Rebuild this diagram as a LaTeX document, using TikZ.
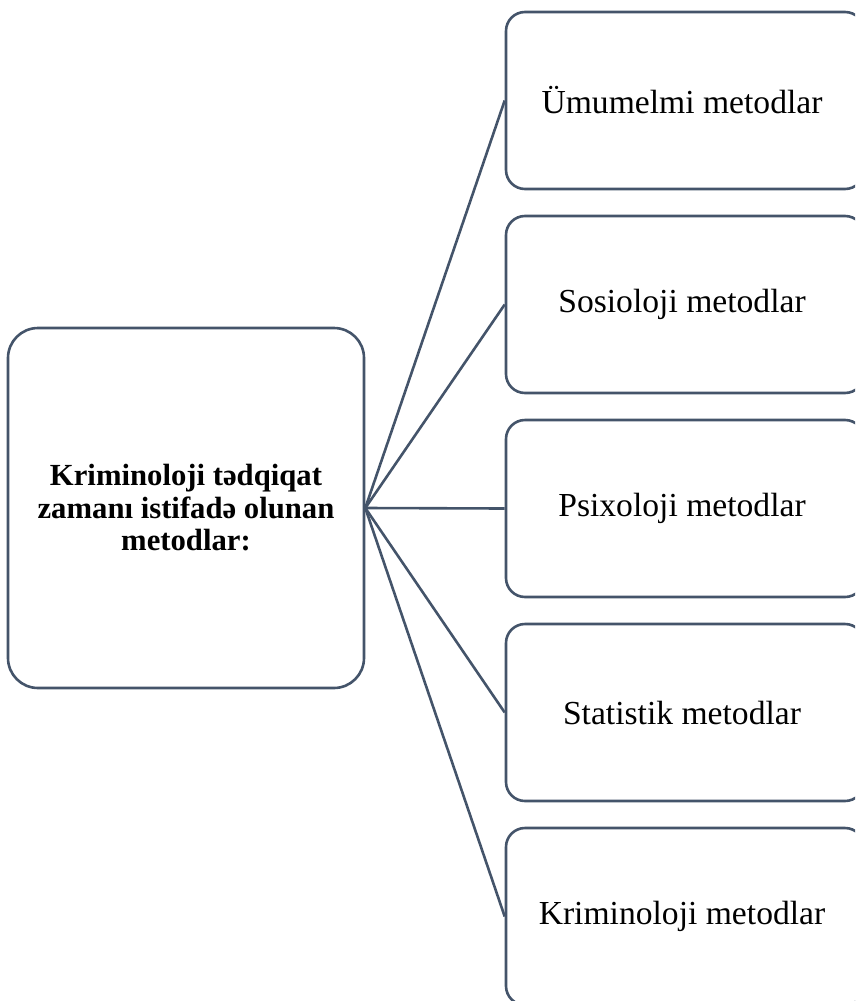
\documentclass[tikz,border=0pt]{standalone}
\usepackage{fontspec}
\setmainfont{Liberation Serif}
\definecolor{frame}{HTML}{44546A}
\tikzset{
  box/.style={draw=frame, line width=2.6pt, fill=white, rounded corners=19pt, inner sep=0pt, align=center},
  mainbox/.style={box, rounded corners=30pt, minimum width=356pt, minimum height=360pt, font=\fontsize{30.7}{32.5}\selectfont\bfseries},
  subbox/.style={box, minimum width=358pt, minimum height=177pt, font=\fontsize{33.6}{36}\selectfont},
  link/.style={draw=frame, line width=2.6pt}
}
\begin{document}
\begin{tikzpicture}[x=1pt,y=-1pt]
\useasboundingbox (0,0) rectangle (855,1001);
\clip (0,0) rectangle (855,1001);
\node[mainbox] (M) at (186,508) {Kriminoloji tədqiqat\\zamanı istifadə olunan\\metodlar:};
\node[subbox] (A) at (685,100.5) {\hspace*{-6pt}Ümumelmi metodlar};
\node[subbox] (B) at (685,304.5) {\hspace*{-6pt}Sosioloji metodlar};
\node[subbox] (C) at (685,508.5) {\hspace*{-6pt}Psixoloji metodlar};
\node[subbox] (D) at (685,712.5) {\hspace*{-6pt}Statistik metodlar};
\node[subbox] (E) at (685,916.5) {\hspace*{-6pt}Kriminoloji metodlar};
\foreach \t in {A,B,C,D,E}
  \draw[link] (M.east) -- (\t.west);
\end{tikzpicture}
\end{document}
